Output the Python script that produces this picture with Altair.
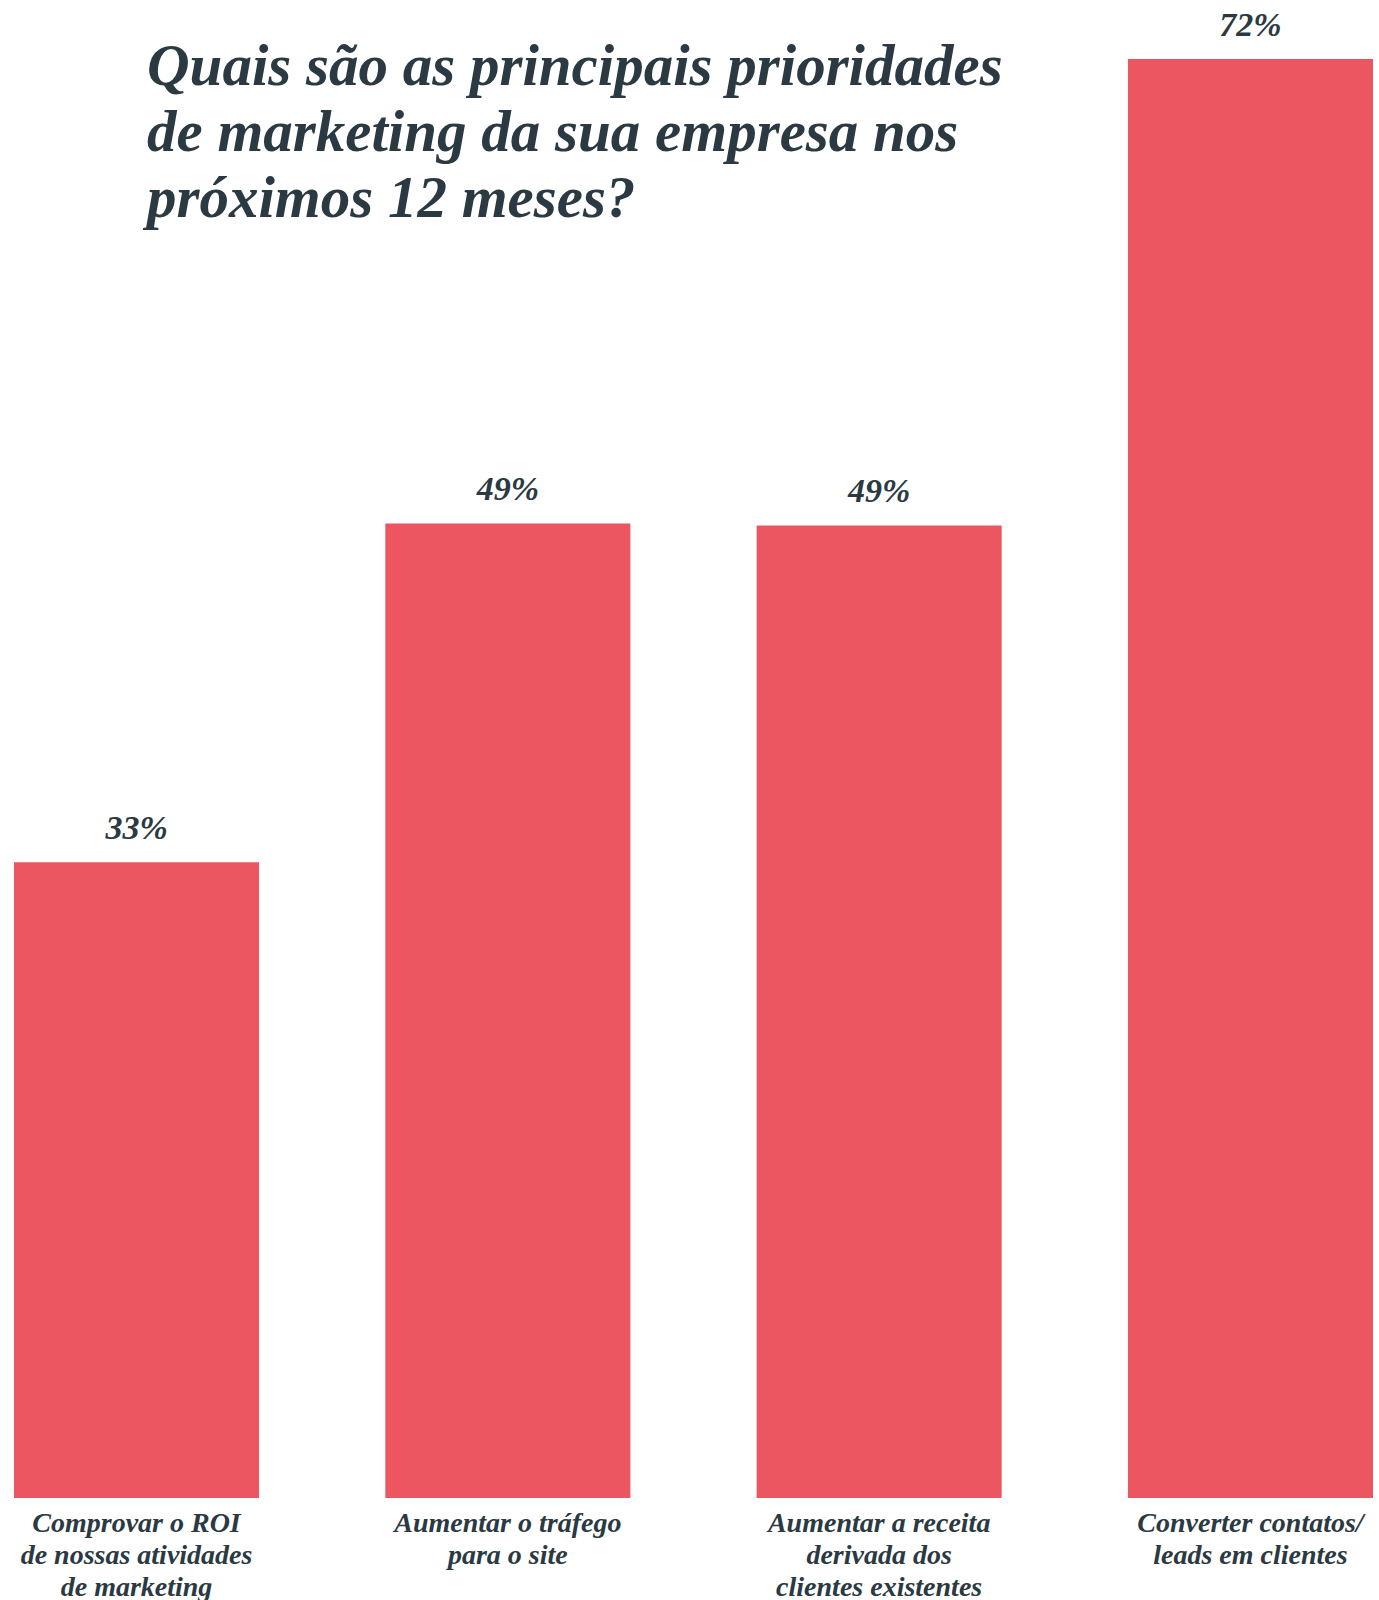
import altair as alt
import pandas as pd

categories = [
    "Comprovar o ROI|de nossas atividades|de marketing",
    "Aumentar o tráfego|para o site",
    "Aumentar a receita|derivada dos|clientes existentes",
    "Converter contatos/|leads em clientes",
]
values = [33, 49.45, 49.35, 72]
labels = ["33%", "49%", "49%", "72%"]
title_lines = [
    "Quais são as principais prioridades",
    "de marketing da sua empresa nos",
    "próximos 12 meses?",
]

df = pd.DataFrame({"cat": categories, "val": values, "lab": labels})

FONT = "Liberation Serif"
TEXT = "#2b3a42"
RED = "#EC5661"
BASE = 2.13

x = alt.X("cat:N", sort=categories,
          scale=alt.Scale(paddingInner=0.34, paddingOuter=0),
          axis=alt.Axis(title=None, labelAngle=0, ticks=False, domain=False,
                        labelExpr="split(datum.label, '|')",
                        labelFont=FONT, labelFontStyle="italic", labelFontWeight="bold",
                        labelFontSize=28, labelColor=TEXT, labelPadding=11,
                        labelLineHeight=32, labelBaseline="top", labelLimit=400))
y = alt.Y("val:Q", scale=alt.Scale(domain=[BASE, 72], zero=False, nice=False),
          axis=None)

bars = alt.Chart(df).mark_bar(color=RED).encode(x=x, y=y, y2=alt.datum(BASE))
text = alt.Chart(df).mark_text(font=FONT, fontStyle="italic", fontWeight="bold",
                               fontSize=34, color=TEXT, baseline="alphabetic", dy=-23).encode(
    x=alt.X("cat:N", sort=categories), y="val:Q", text="lab:N")

title = alt.Chart(pd.DataFrame({"t": [0]})).mark_text(
    text=title_lines, font=FONT, fontStyle="italic", fontWeight="bold",
    fontSize=59, color=TEXT, align="left", baseline="alphabetic", lineHeight=66
).encode(x=alt.value(133), y=alt.value(26))

chart = alt.layer(bars, text, title).properties(
    width=1359, height=1439,
    autosize=alt.AutoSizeParams(type="none"),
    padding={"left": 14, "top": 59, "right": 6, "bottom": 102},
    background="white",
).configure_view(stroke=None)

chart.save("out.html", embed_options={"renderer": "svg", "actions": False})
